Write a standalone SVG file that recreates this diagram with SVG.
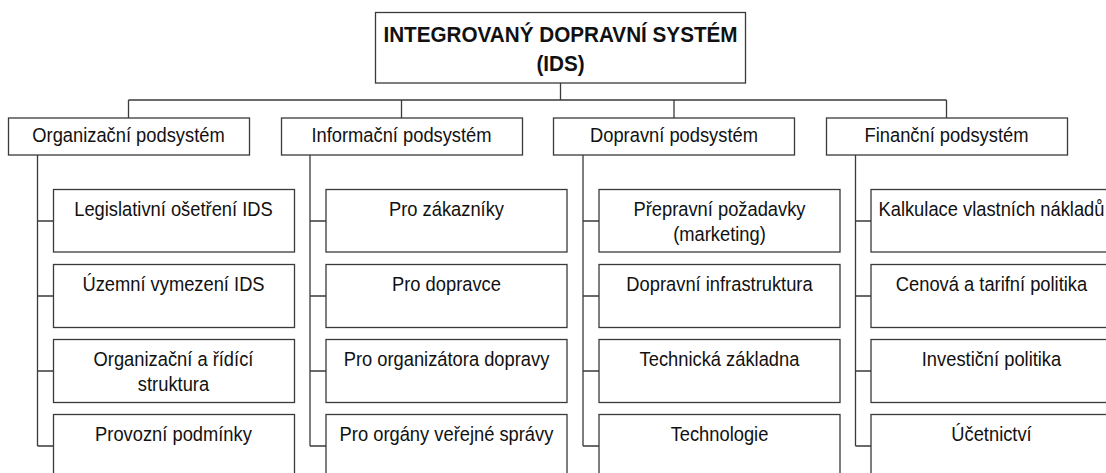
<svg xmlns="http://www.w3.org/2000/svg" width="1106" height="473" viewBox="0 0 1106 473">
<style>
.box{fill:#fff;stroke:#3a3a3a;stroke-width:1.3}
.ln{fill:none;stroke:#3a3a3a;stroke-width:1.3}
text{font-family:"Liberation Sans",Arial,sans-serif;fill:#111;text-anchor:middle}
.t{font-size:22px;font-weight:bold}
.h{font-size:19.5px}
.l{font-size:19.5px}
</style>
<rect width="1106" height="473" fill="#fff"/>
<g id="connectors">
<path class="ln" d="M560.5 83V100M128.5 100H946.5M128.5 100V118M401.5 100V118M674 100V118M946.5 100V118"/>
<path class="ln" d="M37.5 155V446M37.5 221H53M37.5 296H53M37.5 371H53M37.5 446H53"/>
<path class="ln" d="M310 155V446M310 221H326M310 296H326M310 371H326M310 446H326"/>
<path class="ln" d="M583 155V446M583 221H599M583 296H599M583 371H599M583 446H599"/>
<path class="ln" d="M855.5 155V446M855.5 221H871M855.5 296H871M855.5 371H871M855.5 446H871"/>
</g>
<g id="root"><rect class="box" x="375.5" y="12.5" width="370" height="70.5"/><text class="t" transform="scale(0.94,1)" x="596.28" y="42">INTEGROVANÝ DOPRAVNÍ SYSTÉM</text><text class="t" transform="scale(0.94,1)" x="596.28" y="71">(IDS)</text></g>
<g id="org"><rect class="box" x="8.5" y="118" width="241" height="37"/><text class="h" transform="scale(0.94,1)" x="136.70" y="142">Organizační podsystém</text></g>
<g id="inf"><rect class="box" x="281.5" y="118" width="241" height="37"/><text class="h" transform="scale(0.94,1)" x="427.13" y="142">Informační podsystém</text></g>
<g id="dop"><rect class="box" x="553.5" y="118" width="241" height="37"/><text class="h" transform="scale(0.94,1)" x="717.02" y="142">Dopravní podsystém</text></g>
<g id="fin"><rect class="box" x="826.5" y="118" width="241" height="37"/><text class="h" transform="scale(0.94,1)" x="1006.91" y="142">Finanční podsystém</text></g>

<g id="org1"><rect class="box" x="53.5" y="189.5" width="241" height="62.5"/><text class="l" transform="scale(0.94,1)" x="184.57" y="216">Legislativní ošetření IDS</text></g>
<g id="org2"><rect class="box" x="53.5" y="264.5" width="241" height="63"/><text class="l" transform="scale(0.94,1)" x="184.57" y="291">Územní vymezení IDS</text></g>
<g id="org3"><rect class="box" x="53.5" y="339.5" width="241" height="63"/><text class="l" transform="scale(0.94,1)" x="184.57" y="366">Organizační a řídící</text><text class="l" transform="scale(0.94,1)" x="184.57" y="391">struktura</text></g>
<g id="org4"><rect class="box" x="53.5" y="414.5" width="241" height="63"/><text class="l" transform="scale(0.94,1)" x="184.57" y="441">Provozní podmínky</text></g>

<g id="inf1"><rect class="box" x="326" y="189.5" width="241" height="62.5"/><text class="l" transform="scale(0.94,1)" x="475" y="216">Pro zákazníky</text></g>
<g id="inf2"><rect class="box" x="326" y="264.5" width="241" height="63"/><text class="l" transform="scale(0.94,1)" x="475" y="291">Pro dopravce</text></g>
<g id="inf3"><rect class="box" x="326" y="339.5" width="241" height="63"/><text class="l" transform="scale(0.94,1)" x="475" y="366">Pro organizátora dopravy</text></g>
<g id="inf4"><rect class="box" x="326" y="414.5" width="241" height="63"/><text class="l" transform="scale(0.94,1)" x="475" y="441">Pro orgány veřejné správy</text></g>

<g id="dop1"><rect class="box" x="599" y="189.5" width="241" height="62.5"/><text class="l" transform="scale(0.94,1)" x="765.43" y="216">Přepravní požadavky</text><text class="l" transform="scale(0.94,1)" x="765.43" y="241">(marketing)</text></g>
<g id="dop2"><rect class="box" x="599" y="264.5" width="241" height="63"/><text class="l" transform="scale(0.94,1)" x="765.43" y="291">Dopravní infrastruktura</text></g>
<g id="dop3"><rect class="box" x="599" y="339.5" width="241" height="63"/><text class="l" transform="scale(0.94,1)" x="765.43" y="366">Technická základna</text></g>
<g id="dop4"><rect class="box" x="599" y="414.5" width="241" height="63"/><text class="l" transform="scale(0.94,1)" x="765.43" y="441">Technologie</text></g>

<g id="fin1"><rect class="box" x="871" y="189.5" width="241" height="62.5"/><text class="l" transform="scale(0.94,1)" x="1054.79" y="216">Kalkulace vlastních nákladů</text></g>
<g id="fin2"><rect class="box" x="871" y="264.5" width="241" height="63"/><text class="l" transform="scale(0.94,1)" x="1054.79" y="291">Cenová a tarifní politika</text></g>
<g id="fin3"><rect class="box" x="871" y="339.5" width="241" height="63"/><text class="l" transform="scale(0.94,1)" x="1054.79" y="366">Investiční politika</text></g>
<g id="fin4"><rect class="box" x="871" y="414.5" width="241" height="63"/><text class="l" transform="scale(0.94,1)" x="1054.79" y="441">Účetnictví</text></g>
</svg>
